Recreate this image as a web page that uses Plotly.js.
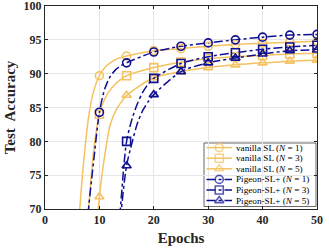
<!DOCTYPE html>
<html><head><meta charset="utf-8">
<script src="https://cdn.plot.ly/plotly-3.0.1.min.js"></script>
<style>body{margin:0;background:#fff}#c{width:329px;height:249px}</style>
</head><body><div id="c"></div>
<script>
// vanilla SL (N=1)
const vN1x = [5, 6, 7, 8, 9, 10, 11, 12, 13, 15, 20, 25, 30, 35, 40, 45, 50];
const vN1y = [55, 66, 76, 83.5, 87.6, 89.7, 90.9, 91.6, 92.1, 92.6, 93.4, 93.7, 94.05, 94.3, 94.5, 94.65, 94.8];
// vanilla SL (N=3)
const vN3x = [6, 7, 8, 9, 10, 11, 12, 13, 14, 15, 20, 25, 30, 35, 40, 45, 50];
const vN3y = [52, 62, 70, 79.0, 84.0, 86.3, 87.6, 88.5, 89.2, 89.7, 90.9, 91.7, 92.2, 92.5, 92.7, 92.9, 93.0];
// vanilla SL (N=5)
const vN5x = [8, 9, 10, 11, 12, 13, 14, 15, 20, 25, 30, 35, 40, 45, 50];
const vN5y = [45, 60, 71.8, 78.0, 82.5, 84.5, 85.8, 86.8, 89.4, 90.3, 90.9, 91.3, 91.6, 91.85, 92.0];
// Pigeon-SL+ (N=1)
const pN1x = [6, 7, 8, 9, 10, 11, 12, 13, 14, 15, 20, 25, 30, 35, 40, 45, 50];
const pN1y = [48, 60, 70, 77.5, 84.3, 87.8, 89.6, 90.6, 91.2, 91.6, 93.2, 94.05, 94.55, 95.0, 95.4, 95.7, 95.8];
// Pigeon-SL+ (N=3)
const pN3x = [12, 13, 14, 15, 16, 17, 18, 19, 20, 25, 30, 35, 40, 45, 50];
const pN3y = [45, 60, 71.5, 80.0, 83.3, 85.6, 87.3, 88.5, 89.3, 91.5, 92.5, 93.1, 93.6, 93.95, 94.2];
// Pigeon-SL+ (N=5)
const pN5x = [12, 13, 14, 15, 16, 17, 18, 19, 20, 25, 30, 35, 40, 45, 50];
const pN5y = [42, 57, 69.5, 76.4, 79.8, 82.7, 84.6, 85.9, 86.9, 90.3, 91.6, 92.3, 92.9, 93.4, 93.5];

// axis ticks
const xTicks = [0, 10, 20, 30, 40, 50];
const yTicks = [70, 75, 80, 85, 90, 95, 100];

const names = ['vanilla SL (<i>N</i> = 1)', 'vanilla SL (<i>N</i> = 3)', 'vanilla SL (<i>N</i> = 5)',
  'Pigeon-SL+ (<i>N</i> = 1)', 'Pigeon-SL+ (<i>N</i> = 3)', 'Pigeon-SL+ (<i>N</i> = 5)'];

const yellow = '#F4C260';
const blue = '#0F0F92';
const series = [
  {x: vN1x, y: vN1y, c: yellow, d: 'solid', s: 'circle-open'},
  {x: vN3x, y: vN3y, c: yellow, d: 'solid', s: 'square-open'},
  {x: vN5x, y: vN5y, c: yellow, d: 'solid', s: 'triangle-up-open'},
  {x: pN1x, y: pN1y, c: blue, d: 'dashdot', s: 'circle-open'},
  {x: pN3x, y: pN3y, c: blue, d: 'dashdot', s: 'square-open'},
  {x: pN5x, y: pN5y, c: blue, d: 'dashdot', s: 'triangle-up-open'}
];

// layout geometry (pixels)
const W = 329, H = 249, ML = 45, MR = 12, MT = 6, MB = 40;
const PW = W - ML - MR, PH = H - MT - MB;
const fx = px => (px - ML) / PW;          // pixel x -> plot fraction
const fy = py => (H - MB - py) / PH;      // pixel y -> plot fraction

const traces = [];
series.forEach(s => {
  traces.push({x: s.x, y: s.y, mode: 'lines', line: {color: s.c, width: 1.5, dash: s.d, shape: 'spline', smoothing: 0.8},
    showlegend: false, hoverinfo: 'skip'});
});
series.forEach(s => {
  const mx = [], my = [];
  s.x.forEach((xv, j) => { if (xv % 5 === 0 && xv >= 10 && s.y[j] >= 70) { mx.push(xv); my.push(s.y[j]); } });
  traces.push({x: mx, y: my, mode: 'markers', marker: {symbol: s.s, size: 8, color: s.c, line: {width: 1.6, color: s.c}},
    showlegend: false});
});

// custom compact legend (MATLAB-like)
const legBox = {x0: 204, x1: 316, y0: 143, y1: 206.5};
const rowY0 = 147.6, rowStep = 10.6;
const sampleX0 = 206.5, sampleX1 = 232, textX = 234;
const annotations = [];
series.forEach((s, i) => {
  const ry = fy(rowY0 + i * rowStep);
  traces.push({x: [fx(sampleX0), fx((sampleX0 + sampleX1) / 2), fx(sampleX1)], y: [ry, ry, ry],
    xaxis: 'x2', yaxis: 'y2', mode: 'lines+markers', showlegend: false, hoverinfo: 'skip',
    line: {color: s.c, width: 1.5, dash: s.d},
    marker: {symbol: s.s, size: [0, 8, 0], color: s.c, line: {width: 1.6, color: s.c}}});
  annotations.push({xref: 'paper', yref: 'paper', x: fx(textX), y: ry, xanchor: 'left', yanchor: 'middle',
    text: names[i], showarrow: false, font: {family: 'Liberation Serif, serif', size: 9.2, color: '#000'}});
});

const tickFont = {family: 'Liberation Serif, Times New Roman, serif', size: 12, color: '#262626'};
const layout = {
  width: W, height: H,
  margin: {l: ML, r: MR, t: MT, b: MB},
  paper_bgcolor: '#fff', plot_bgcolor: '#fff',
  font: {family: 'Liberation Serif, serif'},
  showlegend: false,
  xaxis: {range: [0, 50], tickvals: xTicks, ticktext: xTicks.map(v => '<b>' + v + '</b>'),
    showgrid: true, gridcolor: '#e6e6e6', gridwidth: 1, zeroline: false, ticklabeloverflow: 'allow',
    showline: true, mirror: 'ticks', linecolor: '#262626', linewidth: 1, ticks: 'inside', ticklen: 3, tickcolor: '#262626',
    tickfont: tickFont,
    title: {text: '<b>Epochs</b>', font: {family: 'Liberation Serif, serif', size: 15, color: '#262626'}, standoff: 6}},
  yaxis: {range: [70, 100], tickvals: yTicks, ticktext: yTicks.map(v => '<b>' + v + '</b>'),
    showgrid: true, gridcolor: '#e6e6e6', gridwidth: 1, zeroline: false, ticklabeloverflow: 'allow',
    showline: true, mirror: 'ticks', linecolor: '#262626', linewidth: 1, ticks: 'inside', ticklen: 3, tickcolor: '#262626',
    tickfont: tickFont,
    title: {text: '<b>Test  Accuracy</b>', font: {family: 'Liberation Serif, serif', size: 15, color: '#262626'}, standoff: 4}},
  xaxis2: {overlaying: 'x', range: [0, 1], visible: false, fixedrange: true},
  yaxis2: {overlaying: 'y', range: [0, 1], visible: false, fixedrange: true},
  shapes: [{type: 'rect', xref: 'paper', yref: 'paper', x0: fx(legBox.x0), x1: fx(legBox.x1), y0: fy(legBox.y1), y1: fy(legBox.y0),
    fillcolor: '#fff', line: {color: '#262626', width: 0.7}, layer: 'between'}],
  annotations: annotations
};
Plotly.newPlot('c', traces, layout, {displayModeBar: false, staticPlot: true});
</script></body></html>
